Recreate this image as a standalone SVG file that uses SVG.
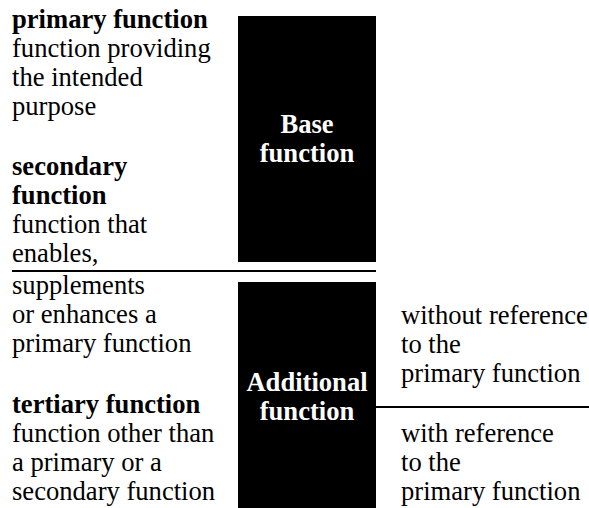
<svg xmlns="http://www.w3.org/2000/svg" width="589" height="508" viewBox="0 0 589 508">
<style>
text{font-family:"Liberation Serif","Times New Roman",serif;font-size:26.6px;fill:#000}
.b{font-weight:bold}
.w{fill:#fff;font-weight:bold;text-anchor:middle}
.box{fill:#000}
.ln{stroke:#000;stroke-width:2;fill:none}
</style>
<rect width="589" height="508" fill="#fff"/>
<g font-family="Liberation Serif, Times New Roman, serif">
<g id="base-function">
<rect class="box" x="238" y="16" width="138" height="246"/>
<text class="w" x="307" y="133">Base</text>
<text class="w" x="307" y="162">function</text>
</g>
<g id="additional-function">
<rect class="box" x="238" y="282" width="138" height="226"/>
<text class="w" x="307" y="391">Additional</text>
<text class="w" x="307" y="420">function</text>
</g>
<g id="connectors">
<line class="ln" x1="12" y1="271" x2="376" y2="271"/>
<line class="ln" x1="376" y1="407" x2="589" y2="407"/>
</g>
<g id="primary-text">
<text class="b" x="12" y="28">primary function</text>
<text x="12" y="57">function providing</text>
<text x="12" y="86">the intended</text>
<text x="12" y="115">purpose</text>
</g>
<g id="secondary-text">
<text class="b" x="12" y="175">secondary</text>
<text class="b" x="12" y="204">function</text>
<text x="12" y="233">function that</text>
<text x="12" y="262">enables,</text>
<text x="12" y="294">supplements</text>
<text x="12" y="323">or enhances a</text>
<text x="12" y="352">primary function</text>
</g>
<g id="tertiary-text">
<text class="b" x="12" y="413">tertiary function</text>
<text x="12" y="442">function other than</text>
<text x="12" y="471">a primary or a</text>
<text x="12" y="500">secondary function</text>
</g>
<g id="without-reference">
<text x="401" y="324">without reference</text>
<text x="401" y="353">to the</text>
<text x="401" y="382">primary function</text>
</g>
<g id="with-reference">
<text x="401" y="442">with reference</text>
<text x="401" y="471">to the</text>
<text x="401" y="500">primary function</text>
</g>
</g>
</svg>
